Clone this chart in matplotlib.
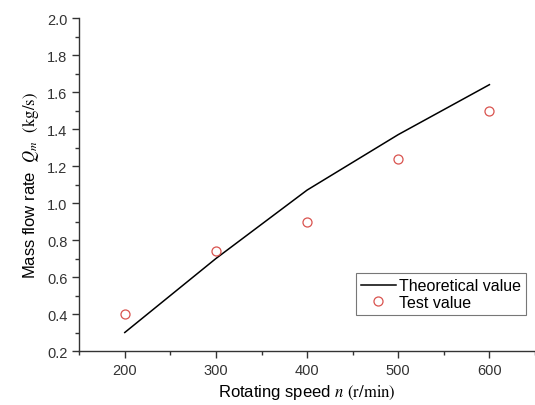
import matplotlib
matplotlib.use("Agg")
import matplotlib.pyplot as plt
from matplotlib.ticker import MultipleLocator

plt.rcParams['font.family'] = ['Liberation Sans', 'DejaVu Sans']
plt.rcParams['mathtext.fontset'] = 'stix'

# data
speed = [200, 300, 400, 500, 600]
theoretical = [0.30, 0.70, 1.07, 1.37, 1.64]
test = [0.40, 0.74, 0.90, 1.24, 1.50]

fig = plt.figure(figsize=(5.35, 4.06), dpi=100)
ax = fig.add_axes([0.148, 0.133, 0.852, 0.82])

ax.plot(speed, theoretical, color='black', lw=1.1, label='Theoretical value')
ax.plot(speed, test, 'o', ls='none', mfc='none', mec='#d9534f', ms=6.5, mew=0.9,
        label='Test value')

ax.set_xlim(150, 650)
ax.set_ylim(0.2, 2.0)
ax.xaxis.set_major_locator(MultipleLocator(100))
ax.xaxis.set_minor_locator(MultipleLocator(50))
ax.yaxis.set_major_locator(MultipleLocator(0.2))
ax.yaxis.set_minor_locator(MultipleLocator(0.1))
ax.yaxis.set_major_formatter(plt.FuncFormatter(lambda v, p: f"{v:.1f}"))

for s in ['top', 'right']:
    ax.spines[s].set_visible(False)
for s in ['left', 'bottom']:
    ax.spines[s].set_linewidth(1.0)
    ax.spines[s].set_color('#333333')
ax.tick_params(which='major', direction='out', length=5, width=1, labelsize=10.5, colors='#333333')
ax.tick_params(which='minor', direction='out', length=3, width=1, colors='#333333')

ax.set_xlabel(r"Rotating speed $n$ $\mathrm{(r/min)}$", fontsize=12)
ax.set_ylabel(r"Mass flow rate  $Q_m$  $\mathrm{(kg/s)}$", fontsize=12)

leg = ax.legend(loc='lower left', bbox_to_anchor=(0.6, 0.1), fontsize=11.5,
                frameon=True, fancybox=False, handlelength=2.2, borderpad=0.3,
                labelspacing=0.1, handletextpad=0.2, borderaxespad=0.2)
leg.get_frame().set_edgecolor('#555555')
leg.get_frame().set_linewidth(0.8)

fig.savefig('out.png', dpi=100)
